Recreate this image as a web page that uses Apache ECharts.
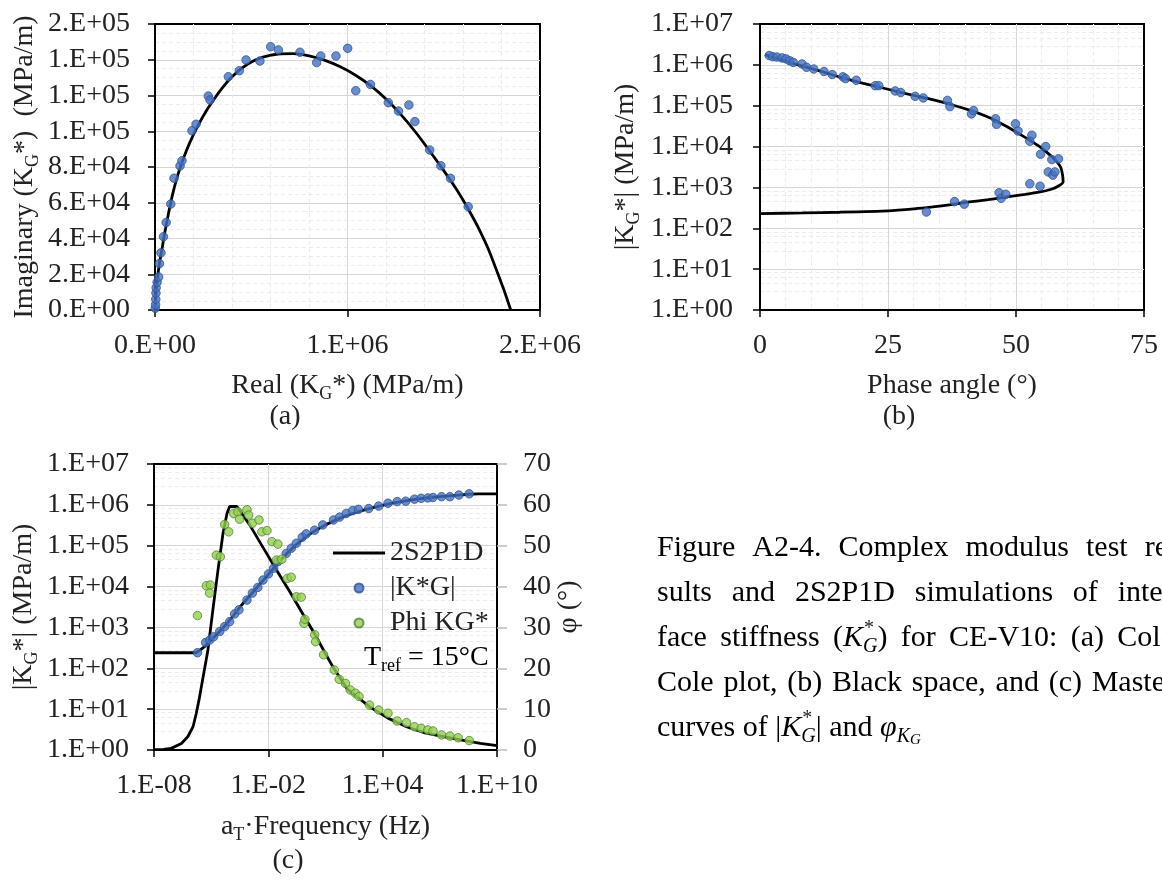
<!DOCTYPE html>
<html>
<head>
<meta charset="utf-8">
<title>Figure A2-4</title>
<script src="https://cdn.jsdelivr.net/npm/echarts@6.0.0/dist/echarts.min.js"></script>
<style>
html, body { margin: 0; padding: 0; background: #ffffff; }
#chart { width: 1162px; height: 882px; }
</style>
</head>
<body>
<div id="chart"></div>
<script>
// ---------------- (a) Cole-Cole plane ----------------
const coleRealTicks = [0, 1e6, 2e6];
const coleImagTicks = [0, 2e4, 4e4, 6e4, 8e4, 1e5, 1.2e5, 1.4e5, 1.6e5];
const colePtsReal = [1.5e3, 3e3, 4e3, 5e3, 6e3, 1.1e4, 1.9e4, 2.3e4, 3.1e4, 4.4e4, 5.8e4, 8.2e4, 9.9e4, 1.3e5, 1.4e5, 1.92e5, 2.13e5, 2.77e5, 2.86e5, 3.81e5, 4.38e5, 4.73e5, 5.45e5, 6.01e5, 6.41e5, 7.53e5, 8.4e5, 8.61e5, 9.4e5, 1.001e6, 1.043e6, 1.119e6, 1.212e6, 1.265e6, 1.319e6, 1.35e6, 1.427e6, 1.485e6, 1.535e6, 1.627e6];
const colePtsImag = [1.0e3, 3.0e3, 6.0e3, 9.5e3, 1.25e4, 1.55e4, 1.85e4, 2.6e4, 3.2e4, 4.1e4, 4.9e4, 5.93e4, 7.37e4, 8.06e4, 8.35e4, 1.003e5, 1.039e5, 1.197e5, 1.175e5, 1.305e5, 1.339e5, 1.399e5, 1.393e5, 1.473e5, 1.455e5, 1.442e5, 1.384e5, 1.421e5, 1.421e5, 1.464e5, 1.227e5, 1.262e5, 1.16e5, 1.113e5, 1.147e5, 1.054e5, 8.95e4, 8.07e4, 7.37e4, 5.78e4];
const coleFitReal = [0, 2e3, 6e3, 1.3e4, 2.3e4, 3.6e4, 5.2e4, 7.0e4, 9.2e4, 1.17e5, 1.45e5, 1.8e5, 2.2e5, 2.7e5, 3.3e5, 4.0e5, 4.8e5, 5.6e5, 6.4e5, 7.2e5, 8.0e5, 8.8e5, 9.6e5, 1.04e6, 1.12e6, 1.2e6, 1.28e6, 1.35e6, 1.42e6, 1.49e6, 1.56e6, 1.6e6, 1.64e6, 1.68e6, 1.73e6, 1.789e6, 1.82e6, 1.848e6];
const coleFitImag = [0, 5e3, 1.1e4, 1.8e4, 2.6e4, 3.4e4, 4.4e4, 5.4e4, 6.5e4, 7.5e4, 8.4e4, 9.35e4, 1.025e5, 1.12e5, 1.215e5, 1.305e5, 1.375e5, 1.415e5, 1.432e5, 1.434e5, 1.422e5, 1.398e5, 1.362e5, 1.315e5, 1.255e5, 1.18e5, 1.09e5, 1.0e5, 9.0e4, 7.95e4, 6.85e4, 6.15e4, 5.4e4, 4.6e4, 3.45e4, 1.8e4, 9.0e3, 0];

// ---------------- (b) Black space ----------------
const phaseTicks = [0, 25, 50, 75];
const modTicks = [1, 1e1, 1e2, 1e3, 1e4, 1e5, 1e6, 1e7];
const blackPtsPhase = [1.8, 2.5, 3.3, 4.3, 5.1, 5.8, 6.5, 8.2, 9.1, 10.5, 12.5, 14.1, 16.2, 16.7, 18.8, 22.5, 23.2, 26.4, 27.5, 30.3, 31.9, 36.6, 37.1, 41.3, 41.7, 46.0, 46.2, 49.9, 50.4, 53.1, 52.7, 55.8, 54.8, 57.0, 58.3, 56.3, 57.2, 57.6, 52.7, 54.7, 46.7, 47.1, 48.0, 38.0, 39.9, 32.5];
const blackPtsMod = [1.69e6, 1.58e6, 1.55e6, 1.48e6, 1.40e6, 1.26e6, 1.15e6, 1.05e6, 8.7e5, 7.9e5, 6.9e5, 5.8e5, 5.1e5, 4.6e5, 4.2e5, 3.1e5, 3.1e5, 2.3e5, 2.1e5, 1.7e5, 1.55e5, 1.35e5, 9.5e4, 6.3e4, 7.6e4, 4.8e4, 3.5e4, 3.6e4, 2.4e4, 1.9e4, 1.35e4, 1.0e4, 6.5e3, 4.8e3, 5.0e3, 2.4e3, 2.0e3, 2.4e3, 1230, 1070, 740, 540, 680, 450, 390, 250];
const blackFitPhase = [0, 8.3, 15.6, 25.0, 30.1, 33.7, 37.3, 40.9, 44.6, 48.2, 51.8, 54.7, 56.9, 58.3, 59.2, 59.1, 58.7, 57.6, 56.2, 54.7, 52.5, 50.4, 48.2, 46.0, 43.8, 41.7, 37.3, 33.7, 30.1, 26.4, 22.8, 19.2, 15.6, 12.0, 8.3, 4.7, 1.8, 1.0];
const blackFitMod = [229, 238, 247, 266, 298, 333, 380, 442, 501, 585, 676, 776, 902, 1086, 1361, 1995, 3162, 4786, 6918, 9772, 14790, 21380, 30900, 43650, 57540, 72440, 107200, 141300, 177800, 229100, 295100, 380200, 501200, 691800, 933300, 1259000, 1622000, 1778000];

// ---------------- (c) master curves ----------------
const freqTicks = [1e-8, 1e-2, 1e4, 1e10];
const phiTicks = [0, 10, 20, 30, 40, 50, 60, 70];
const kFreq = [1.91e-6, 5.13e-6, 8.32e-6, 1.35e-5, 2.82e-5, 5.13e-5, 9.33e-5, 1.70e-4, 2.88e-4, 7.59e-4, 1.45e-3, 2.82e-3, 5.25e-3, 1.02e-2, 1.91e-2, 3.16e-2, 8.71e-2, 0.162, 0.295, 0.603, 0.977, 2.69, 7.24, 26.3, 55.0, 123, 269, 537, 1862, 6166, 19050, 57540, 1.62e5, 4.68e5, 1.05e6, 2.34e6, 4.37e6, 1.23e7, 3.39e7, 1.0e8, 3.47e8];
const kMod = [240, 427, 490, 589, 794, 1047, 1380, 2138, 2692, 4677, 6918, 9550, 14450, 20420, 28180, 40740, 64570, 87100, 114800, 162200, 195000, 239900, 323600, 426600, 501200, 616600, 724400, 776200, 812800, 933300, 1.096e6, 1.202e6, 1.23e6, 1.38e6, 1.445e6, 1.479e6, 1.514e6, 1.585e6, 1.585e6, 1.738e6, 1.862e6];
const phiFreq = [1.91e-6, 5.62e-6, 9.12e-6, 8.32e-6, 1.86e-5, 3.02e-5, 5.13e-5, 8.32e-5, 1.51e-4, 2.51e-4, 3.09e-4, 7.59e-4, 9.33e-4, 1.45e-3, 3.24e-3, 4.57e-3, 8.51e-3, 1.55e-2, 3.16e-2, 2.69e-2, 5.13e-2, 0.100, 0.158, 0.295, 0.537, 0.741, 0.83, 2.69, 3.02, 7.94, 28.8, 52.5, 112, 200, 372, 575, 2042, 6166, 19050, 57540, 1.78e5, 4.68e5, 1.05e6, 2.34e6, 4.37e6, 1.23e7, 3.39e7, 9.12e7, 3.47e8];
const phiDeg = [32.9, 40.2, 40.4, 38.4, 47.7, 47.3, 55.2, 53.4, 57.9, 58.3, 56.5, 58.8, 57.5, 55.5, 56.3, 53.4, 53.7, 51.0, 50.4, 46.5, 46.7, 42.0, 42.3, 37.5, 37.4, 31.0, 32.0, 28.2, 26.5, 23.3, 19.6, 17.3, 16.3, 14.7, 13.9, 13.1, 11.0, 9.8, 9.0, 7.1, 6.7, 5.7, 5.3, 4.9, 4.65, 3.7, 3.4, 3.0, 2.3];
const fitModFreq = [1e-8, 1e-7, 1e-6, 1.58e-6, 2.51e-6, 5.01e-6, 1e-5, 2.51e-5, 6.31e-5, 1.58e-4, 3.98e-4, 1e-3, 3.16e-3, 1e-2, 3.16e-2, 0.1, 0.316, 1, 3.16, 10, 31.6, 100, 316, 1000, 3162, 1e4, 3.16e4, 1e5, 3.16e5, 1e6, 3.16e6, 1e7, 3.16e7, 1e8, 3.16e8, 1e9, 1e10];
const fitMod = [240, 240, 240, 240, 275, 355, 490, 759, 1202, 2042, 3548, 5754, 10720, 19950, 37150, 66070, 109600, 169800, 239900, 323600, 416900, 524800, 631000, 741300, 851100, 977200, 1.096e6, 1.202e6, 1.318e6, 1.413e6, 1.514e6, 1.585e6, 1.660e6, 1.738e6, 1.820e6, 1.862e6, 1.862e6];
const fitPhiFreq = [1e-8, 3.16e-8, 7.94e-8, 2.75e-7, 6.03e-7, 1.12e-6, 1.66e-6, 2.29e-6, 3.98e-6, 6.76e-6, 1.23e-5, 2.29e-5, 4.17e-5, 6.76e-5, 9.33e-5, 2.24e-4, 1.05e-3, 5.25e-3, 2.63e-2, 0.132, 0.646, 3.31, 11.0, 28.8, 141, 2042, 1.91e4, 1.78e5, 1.66e6, 1.55e7, 1.45e8, 1.35e9, 1e10];
const fitPhi = [0.1, 0.15, 0.4, 1.6, 3.3, 5.7, 9.0, 12.2, 18.5, 24.5, 34.3, 44.1, 53.0, 57.9, 59.6, 59.6, 55.1, 49.6, 44.1, 38.8, 33.3, 27.7, 23.2, 19.8, 14.9, 10.6, 7.8, 5.7, 4.2, 3.3, 2.4, 1.6, 1.06];

// ---------------- styling constants ----------------
const SERIF = '"Liberation Serif", "Times New Roman", serif';
const TXT = '#222222';
const FS = 28;
const BLUE = '#4472C4', BLUE_EDGE = '#2F528F';
const GREEN = '#92D050', GREEN_EDGE = '#548235';
const GRID_MAJOR = '#d6d6d6';
const GRID_MINOR = '#ececec';

function zip(a, b) { return a.map((v, i) => [v, b[i]]); }
function excelExp(v) {
  if (v === 0) return '0.E+00';
  const parts = Number(v).toExponential(0).split('e');
  const e = parseInt(parts[1], 10);
  return parts[0] + '.E' + (e < 0 ? '-' : '+') + String(Math.abs(e)).padStart(2, '0');
}

const nameRich = {
  t: { fontFamily: SERIF, fontSize: FS, color: TXT, lineHeight: 34 },
  s: { fontFamily: SERIF, fontSize: 18, color: TXT, lineHeight: 34, verticalAlign: 'top', padding: [16, 0, 0, 0] }
};
const labelStyle = (margin) => ({ fontFamily: SERIF, fontSize: FS, color: TXT, margin: margin });
const tickStyle = { show: true, length: 7, lineStyle: { color: '#000', width: 1.5 } };
const lineAxis = { show: true, lineStyle: { color: '#000', width: 2 } };
const majorSplit = { show: true, showMinLine: false, showMaxLine: false, lineStyle: { color: GRID_MAJOR, width: 1 } };
const minorSplit = { show: true, lineStyle: { color: GRID_MINOR, width: 1, type: [4, 3] } };

const option = {
  animation: false,
  backgroundColor: '#ffffff',
  textStyle: { fontFamily: SERIF, color: TXT },
  grid: [
    { left: 155, top: 24, width: 385, height: 286, show: true, borderColor: '#000', borderWidth: 2, backgroundColor: '#fff', containLabel: false, outerBoundsMode: 'none' },
    { left: 760, top: 24, width: 384, height: 286, show: true, borderColor: '#000', borderWidth: 2, backgroundColor: '#fff', containLabel: false, outerBoundsMode: 'none' },
    { left: 154, top: 464, width: 343, height: 286, show: true, borderColor: '#000', borderWidth: 2, backgroundColor: '#fff', containLabel: false, outerBoundsMode: 'none' }
  ],
  xAxis: [
    {
      type: 'value', gridIndex: 0,
      min: coleRealTicks[0], max: coleRealTicks[coleRealTicks.length - 1], interval: coleRealTicks[1] - coleRealTicks[0],
      axisLine: lineAxis, axisTick: tickStyle,
      axisLabel: Object.assign(labelStyle(22), { formatter: excelExp }),
      splitLine: majorSplit,
      minorTick: { show: false, splitNumber: 5 }, minorSplitLine: minorSplit,
      name: '{t|Real (K}{s|G}{t|*) (MPa/m)}', nameLocation: 'middle', nameGap: 59,
      nameTextStyle: { rich: nameRich }
    },
    {
      type: 'value', gridIndex: 1,
      min: phaseTicks[0], max: phaseTicks[phaseTicks.length - 1], interval: phaseTicks[1] - phaseTicks[0],
      axisLine: lineAxis, axisTick: tickStyle,
      axisLabel: labelStyle(22),
      splitLine: majorSplit,
      minorTick: { show: false, splitNumber: 5 }, minorSplitLine: minorSplit,
      name: '{t|Phase angle (°)}', nameLocation: 'middle', nameGap: 59,
      nameTextStyle: { rich: nameRich }
    },
    {
      type: 'log', logBase: 10, gridIndex: 2,
      min: freqTicks[0], max: freqTicks[freqTicks.length - 1],
      axisLine: lineAxis,
      axisTick: Object.assign({}, tickStyle, { customValues: freqTicks }),
      axisLabel: Object.assign(labelStyle(22), { formatter: excelExp, customValues: freqTicks }),
      splitLine: majorSplit,
      name: '{t|a}{s|T}{t|·Frequency (Hz)}', nameLocation: 'middle', nameGap: 60,
      nameTextStyle: { rich: nameRich }
    }
  ],
  yAxis: [
    {
      type: 'value', gridIndex: 0,
      min: coleImagTicks[0], max: coleImagTicks[coleImagTicks.length - 1], interval: coleImagTicks[1] - coleImagTicks[0],
      axisLine: lineAxis, axisTick: tickStyle,
      axisLabel: Object.assign(labelStyle(25), { formatter: excelExp }),
      splitLine: majorSplit,
      minorTick: { show: false, splitNumber: 4 }, minorSplitLine: minorSplit,
      name: '{t|Imaginary (K}{s|G}{t|*)  (MPa/m)}', nameLocation: 'middle', nameGap: 113,
      nameTextStyle: { rich: nameRich }
    },
    {
      type: 'log', logBase: 10, gridIndex: 1,
      min: modTicks[0], max: modTicks[modTicks.length - 1],
      axisLine: lineAxis, axisTick: tickStyle,
      axisLabel: Object.assign(labelStyle(27), { formatter: excelExp }),
      splitLine: majorSplit,
      minorTick: { show: false, splitNumber: 5 }, minorSplitLine: minorSplit,
      name: '{t||K}{s|G}{t|*| (MPa/m)}', nameLocation: 'middle', nameGap: 117,
      nameTextStyle: { rich: nameRich }
    },
    {
      type: 'log', logBase: 10, gridIndex: 2,
      min: modTicks[0], max: modTicks[modTicks.length - 1],
      axisLine: lineAxis, axisTick: tickStyle,
      axisLabel: Object.assign(labelStyle(25), { formatter: excelExp }),
      splitLine: majorSplit,
      minorTick: { show: false, splitNumber: 5 }, minorSplitLine: minorSplit,
      name: '{t||K}{s|G}{t|*| (MPa/m)}', nameLocation: 'middle', nameGap: 113,
      nameTextStyle: { rich: nameRich }
    },
    {
      type: 'value', gridIndex: 2, position: 'right',
      min: phiTicks[0], max: phiTicks[phiTicks.length - 1], interval: phiTicks[1] - phiTicks[0],
      axisLine: lineAxis,
      axisTick: { show: true, length: 10, lineStyle: { color: '#bdbdbd', width: 1.5 } },
      axisLabel: labelStyle(26),
      splitLine: { show: false },
      name: '{t|φ (°)}', nameLocation: 'middle', nameGap: 55, nameRotate: 90,
      nameTextStyle: { rich: nameRich }
    }
  ],
  legend: {
    left: 333, top: 539, orient: 'vertical', padding: 0,
    itemGap: 7, itemWidth: 52, itemHeight: 9,
    textStyle: { fontFamily: SERIF, fontSize: FS, color: TXT, lineHeight: 28 },
    data: [
      { name: '2S2P1D', icon: 'path://M0,0L52,0L52,3L0,3Z', itemStyle: { color: '#000' } },
      { name: '|K*G|', icon: 'circle' },
      { name: 'Phi KG*', icon: 'circle' }
    ]
  },
  series: [
    {
      name: 'Cole-Cole 2S2P1D', type: 'line', xAxisIndex: 0, yAxisIndex: 0,
      data: zip(coleFitReal, coleFitImag), symbol: 'none', smooth: 0.2,
      lineStyle: { color: '#000', width: 2.8 }, z: 3
    },
    {
      name: 'Cole-Cole data', type: 'scatter', xAxisIndex: 0, yAxisIndex: 0,
      data: zip(colePtsReal, colePtsImag), symbolSize: 8.5,
      itemStyle: { color: BLUE, borderColor: BLUE_EDGE, borderWidth: 1 }, z: 4
    },
    {
      name: 'Black 2S2P1D', type: 'line', xAxisIndex: 1, yAxisIndex: 1,
      data: zip(blackFitPhase, blackFitMod), symbol: 'none', smooth: 0.2,
      lineStyle: { color: '#000', width: 2.8 }, z: 3
    },
    {
      name: 'Black data', type: 'scatter', xAxisIndex: 1, yAxisIndex: 1,
      data: zip(blackPtsPhase, blackPtsMod), symbolSize: 8.5,
      itemStyle: { color: BLUE, borderColor: BLUE_EDGE, borderWidth: 1 }, z: 4
    },
    {
      name: '2S2P1D', type: 'line', xAxisIndex: 2, yAxisIndex: 2,
      data: zip(fitModFreq, fitMod), symbol: 'none', showSymbol: false,
      lineStyle: { color: '#000', width: 2.8 }, itemStyle: { color: '#000' }, z: 3
    },
    {
      name: '2S2P1D', type: 'line', xAxisIndex: 2, yAxisIndex: 3,
      data: zip(fitPhiFreq, fitPhi), symbol: 'none', showSymbol: false,
      lineStyle: { color: '#000', width: 2.8 }, itemStyle: { color: '#000' }, z: 3
    },
    {
      name: '|K*G|', type: 'scatter', xAxisIndex: 2, yAxisIndex: 2,
      data: zip(kFreq, kMod), symbolSize: 8.5,
      itemStyle: { color: BLUE, borderColor: BLUE_EDGE, borderWidth: 1 }, z: 4
    },
    {
      name: 'Phi KG*', type: 'scatter', xAxisIndex: 2, yAxisIndex: 3,
      data: zip(phiFreq, phiDeg), symbolSize: 8.5,
      itemStyle: { color: GREEN, borderColor: GREEN_EDGE, borderWidth: 1 }, z: 5
    }
  ],
  graphic: []
};

// ---------------- panel letters, T_ref and caption ----------------
const CAP_FS = 30;
const capRich = {
  n: { fontFamily: SERIF, fontSize: CAP_FS, color: TXT, lineHeight: 38 },
  i: { fontFamily: SERIF, fontSize: CAP_FS, fontStyle: 'italic', color: TXT, lineHeight: 38 },
  si: { fontFamily: SERIF, fontSize: 20, fontStyle: 'italic', color: TXT, lineHeight: 38, verticalAlign: 'top', padding: [18, 0, 0, 0] },
  ssi: { fontFamily: SERIF, fontSize: 15, fontStyle: 'italic', color: TXT, lineHeight: 38, verticalAlign: 'top', padding: [24, 0, 0, 0] }
};
const mctx = document.createElement('canvas').getContext('2d');
function fontOf(st) { return (st.fontStyle === 'italic' ? 'italic ' : '') + st.fontSize + 'px ' + SERIF; }
function tokW(k, t) { mctx.font = fontOf(capRich[k]); return mctx.measureText(t).width; }
function wordW(tokens) { return tokens.reduce((s, tk) => s + tokW(tk[0], tk[1]), 0); }
function richOf(tokens) { return tokens.map(tk => '{' + tk[0] + '|' + tk[1] + '}').join(''); }

const captionLines = [
  { y: 548, end: 1178, words: [[['n', 'Figure']], [['n', 'A2-4.']], [['n', 'Complex']], [['n', 'modulus']], [['n', 'test']], [['n', 're-']]] },
  { y: 593, end: 1182, words: [[['n', 'sults']], [['n', 'and']], [['n', '2S2P1D']], [['n', 'simulations']], [['n', 'of']], [['n', 'inter-']]] },
  { y: 638, end: 1184, words: [[['n', 'face']], [['n', 'stiffness']], [['n', '('], ['i', 'K'], ['si', 'G'], ['n', ')']], [['n', 'for']], [['n', 'CE-V10:']], [['n', '(a)']], [['n', 'Cole-']]], star: 2 },
  { y: 683, end: 1175, words: [[['n', 'Cole']], [['n', 'plot,']], [['n', '(b)']], [['n', 'Black']], [['n', 'space,']], [['n', 'and']], [['n', '(c)']], [['n', 'Master']]] }
];
const X0 = 657;
captionLines.forEach(line => {
  const widths = line.words.map(wordW);
  const total = widths.reduce((a, b) => a + b, 0);
  const gap = (line.end - X0 - total) / (line.words.length - 1);
  let x = X0;
  line.words.forEach((w, i) => {
    option.graphic.push({ type: 'text', x: x, y: line.y, style: { text: richOf(w), rich: capRich, verticalAlign: 'middle', align: 'left' } });
    if (line.star === i) {
      const sx = x + tokW('n', '(') + tokW('i', 'K') + 1;
      option.graphic.push({ type: 'text', x: sx, y: line.y - 9, style: { text: '*', fontFamily: SERIF, fontSize: 20, fill: TXT, verticalAlign: 'middle', align: 'left' } });
    }
    x += widths[i] + gap;
  });
});
// last (left-aligned) caption line
const lastTokens = [['n', 'curves of |'], ['i', 'K'], ['si', 'G'], ['n', '| and '], ['i', 'φ'], ['si', 'K'], ['ssi', 'G']];
option.graphic.push({ type: 'text', x: X0, y: 728, style: { text: richOf(lastTokens), rich: capRich, verticalAlign: 'middle', align: 'left' } });
option.graphic.push({ type: 'text', x: X0 + tokW('n', 'curves of |') + tokW('i', 'K') + 1, y: 719, style: { text: '*', fontFamily: SERIF, fontSize: 20, fill: TXT, verticalAlign: 'middle', align: 'left' } });

// panel letters
[['(a)', 285, 417], ['(b)', 899, 417], ['(c)', 288, 861]].forEach(p => {
  option.graphic.push({ type: 'text', x: p[1], y: p[2], style: { text: p[0], fontFamily: SERIF, fontSize: FS, fill: TXT, align: 'center', verticalAlign: 'middle' } });
});
// reference temperature note inside panel (c)
option.graphic.push({ type: 'text', x: 364, y: 658, z: 10, style: { text: '{t|T}{s|ref}{t| = 15°C}', rich: nameRich, verticalAlign: 'middle', align: 'left' } });

const chart = echarts.init(document.getElementById('chart'), null, { renderer: 'canvas' });
chart.setOption(option);
</script>
</body>
</html>
